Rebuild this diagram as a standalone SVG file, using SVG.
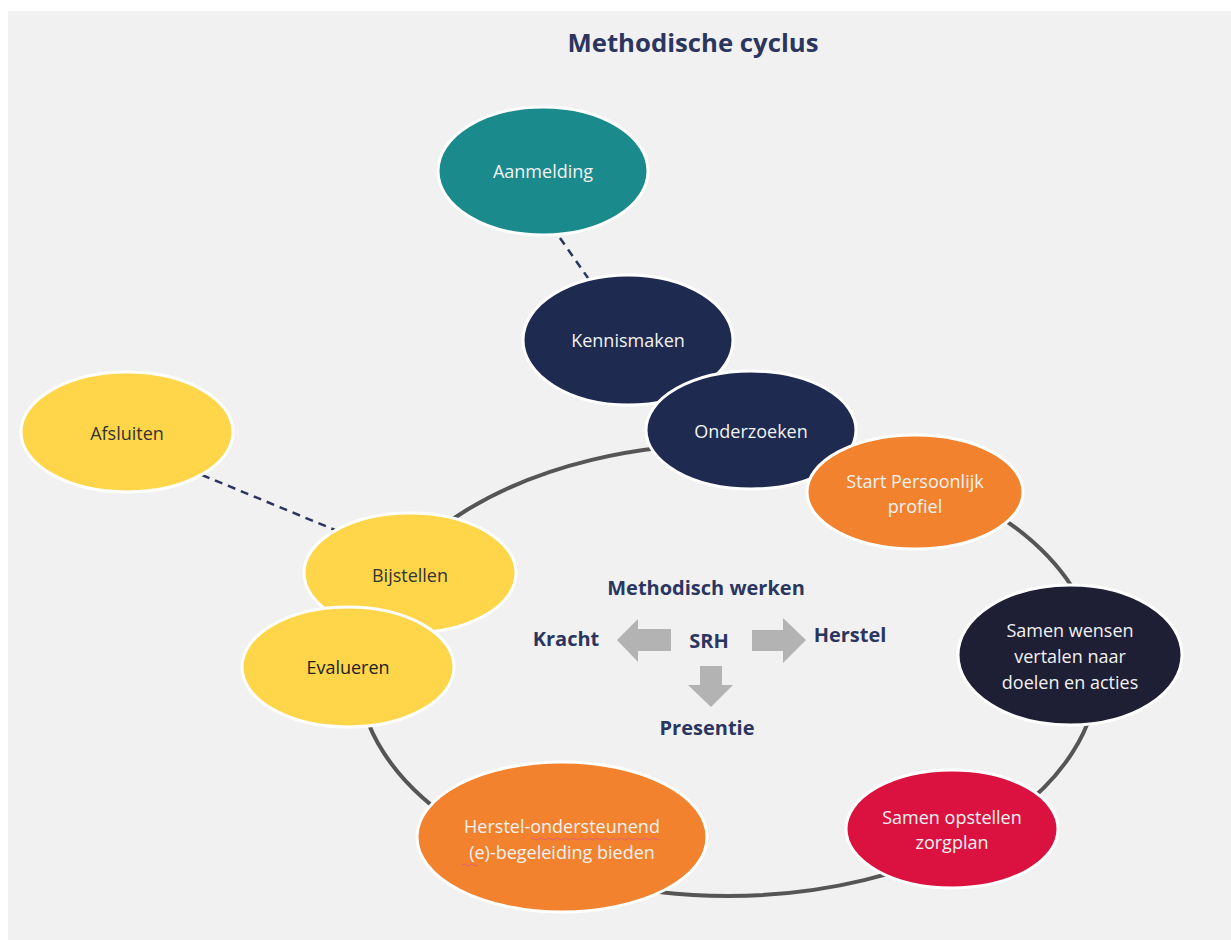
<svg xmlns="http://www.w3.org/2000/svg" width="1231" height="940" viewBox="0 0 1231 940">
  <defs>
    <style>
      .node { stroke: #ffffff; stroke-width: 3; }
      .lbl { font-family: "Open Sans", "Liberation Sans", sans-serif; font-size: 18px; text-anchor: middle; }
      .light { fill: #f2f2f2; }
      .dark { fill: #333333; }
      .center { font-family: "Open Sans", "Liberation Sans", sans-serif; font-size: 20px; font-weight: bold; fill: #2b3660; text-anchor: middle; }
      .dash { stroke: #2b3660; stroke-width: 2.5; stroke-dasharray: 8 6; fill: none; }
      .arrow { fill: #b3b3b3; }
      .squiggle { stroke: #e06070; stroke-width: 1; fill: none; }
    </style>
  </defs>
  <rect x="0" y="0" width="1231" height="940" fill="#ffffff"/>
  <rect x="8" y="11" width="1223" height="929" fill="#f1f1f1"/>
  <text x="693" y="52" font-family="'Open Sans', 'Liberation Sans', sans-serif" font-size="25" font-weight="bold" fill="#2b3660" text-anchor="middle" textLength="251" lengthAdjust="spacingAndGlyphs">Methodische cyclus</text>

  <g id="connectors">
    <ellipse cx="728" cy="670" rx="370" ry="226" fill="none" stroke="#555555" stroke-width="4"/>
    <line class="dash" x1="560" y1="238" x2="588" y2="278"/>
    <line class="dash" x1="202" y1="475" x2="335" y2="530"/>
  </g>

  <g id="center">
    <text class="center" x="706" y="595">Methodisch werken</text>
    <text class="center" x="566" y="646">Kracht</text>
    <text class="center" x="709" y="648">SRH</text>
    <text class="center" x="850" y="642">Herstel</text>
    <text class="center" x="707" y="735">Presentie</text>
    <polygon class="arrow" points="617,640 638,619 638,629 671,629 671,651 638,651 638,662"/>
    <polygon class="arrow" points="806,640 783,618 783,630 752,630 752,651 783,651 783,663"/>
    <polygon class="arrow" points="711,707 688,685 700,685 700,666 722,666 722,685 733,685"/>
  </g>

  <g id="aanmelding">
    <ellipse class="node" cx="543" cy="171" rx="105" ry="64" fill="#1b8a8c"/>
    <text class="lbl light" x="543" y="178">Aanmelding</text>
  </g>
  <g id="kennismaken">
    <ellipse class="node" cx="628" cy="340" rx="105" ry="65" fill="#1e2a50"/>
    <text class="lbl light" x="628" y="347">Kennismaken</text>
  </g>
  <g id="onderzoeken">
    <ellipse class="node" cx="751" cy="430" rx="105" ry="59" fill="#1e2a50"/>
    <text class="lbl light" x="751" y="438">Onderzoeken</text>
  </g>
  <g id="start-profiel">
    <ellipse class="node" cx="915" cy="492" rx="108" ry="57" fill="#f2822e"/>
    <text class="lbl light" x="915" y="488">Start Persoonlijk</text>
    <text class="lbl light" x="915" y="513">profiel</text>
  </g>
  <g id="samen-wensen">
    <ellipse class="node" cx="1070" cy="655" rx="112" ry="70" fill="#1e1e35"/>
    <text class="lbl light" x="1070" y="637">Samen wensen</text>
    <text class="lbl light" x="1070" y="663">vertalen naar</text>
    <text class="lbl light" x="1070" y="689">doelen en acties</text>
  </g>
  <g id="zorgplan">
    <ellipse class="node" cx="952" cy="829" rx="106" ry="59" fill="#db123f"/>
    <text class="lbl light" x="952" y="824">Samen opstellen</text>
    <text class="lbl light" x="952" y="849">zorgplan</text>
  </g>
  <g id="begeleiding">
    <ellipse class="node" cx="562" cy="837" rx="145" ry="75" fill="#f2822e"/>
    <text class="lbl light" x="562" y="833">Herstel-ondersteunend</text>
    <text class="lbl light" x="562" y="859">(e)-begeleiding bieden</text>
    <path class="squiggle" d="M531,839 q2,-2 4,0 t4,0 t4,0 t4,0 t4,0 t4,0 t4,0 t4,0 t4,0 t4,0 t4,0 t4,0 t4,0 t4,0 t4,0 t4,0 t4,0 t4,0 t4,0 t4,0 t4,0 t4,0 t4,0 t4,0 t4,0 t4,0 t4,0 t4,0 t4,0 t4,0 t4,0 t4,0"/>
    <path class="squiggle" d="M462,865 q2,-2 4,0 t4,0 t4,0 t4,0"/>
  </g>
  <g id="afsluiten">
    <ellipse class="node" cx="127" cy="432" rx="106" ry="60" fill="#ffd64a"/>
    <text class="lbl dark" x="127" y="440">Afsluiten</text>
  </g>
  <g id="bijstellen">
    <ellipse class="node" cx="410" cy="573" rx="106" ry="60" fill="#ffd64a"/>
    <text class="lbl dark" x="410" y="582">Bijstellen</text>
  </g>
  <g id="evalueren">
    <ellipse class="node" cx="348" cy="667" rx="106" ry="60" fill="#ffd64a"/>
    <text class="lbl" x="348" y="674" fill="#222222">Evalueren</text>
  </g>
</svg>
